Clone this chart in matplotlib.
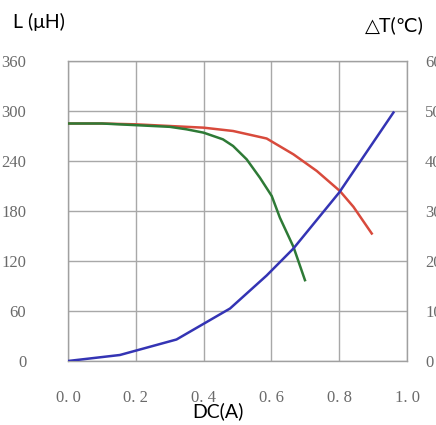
import matplotlib
matplotlib.use("Agg")
import matplotlib.pyplot as plt

# Data
red_x = [0.0, 0.10, 0.20, 0.30, 0.40, 0.487, 0.586, 0.665, 0.734, 0.802, 0.842, 0.896]
red_y = [285, 285, 284, 282, 280, 276, 267, 248, 228, 204, 185, 153]

green_x = [0.0, 0.10, 0.20, 0.30, 0.35, 0.40, 0.457, 0.487, 0.527, 0.566, 0.601, 0.625, 0.665, 0.699]
green_y = [285, 285, 283, 281, 278, 274, 266, 258, 242, 220, 198, 172, 137, 97]

blue_x = [0.0, 0.153, 0.32, 0.478, 0.586, 0.665, 0.80, 0.96]
blue_y = [0.0, 1.2, 4.3, 10.5, 17.1, 22.5, 33.7, 49.7]

x_ticks = [0.0, 0.2, 0.4, 0.6, 0.8, 1.0]
x_tick_labels = ["0. 0", "0. 2", "0. 4", "0. 6", "0. 8", "1. 0"]
yl_ticks = [0, 60, 120, 180, 240, 300, 360]
yr_ticks = [0, 10, 20, 30, 40, 50, 60]

fig = plt.figure(figsize=(4.36, 4.25), dpi=100)
ax = fig.add_axes([68/436, 64/425, 339/436, 300/425])
ax.set_xlim(0, 1.0)
ax.set_ylim(0, 360)
ax.set_xticks(x_ticks)
ax.set_xticklabels(x_tick_labels)
ax.set_yticks(yl_ticks)
ax.grid(True, color="#a8a8a8", linewidth=1.0)
ax.set_axisbelow(True)
for s in ax.spines.values():
    s.set_color("#a0a0a0")
    s.set_linewidth(1.0)

ax.tick_params(axis="both", length=0, labelcolor="#6a6a6a")
ax.tick_params(axis="x", pad=21)
ax.tick_params(axis="y", pad=30)
for lab in ax.get_xticklabels() + ax.get_yticklabels():
    lab.set_fontfamily("Liberation Serif")
    lab.set_fontsize(12)

ax.plot(red_x, red_y, color="#d84a3c", linewidth=1.8, zorder=3)
ax.plot(green_x, green_y, color="#2e7a36", linewidth=1.8, zorder=4)

ax2 = ax.twinx()
ax2.set_ylim(0, 60)
ax2.set_yticks(yr_ticks)
ax2.tick_params(axis="y", length=0, pad=13, labelcolor="#6a6a6a")
for lab in ax2.get_yticklabels():
    lab.set_fontfamily("Liberation Serif")
    lab.set_fontsize(12)
for s in ax2.spines.values():
    s.set_visible(False)
ax2.plot(blue_x, blue_y, color="#3434b4", linewidth=1.8, zorder=5)

title_fam = ["Lato", "DejaVu Sans"]
fig.text(13/436, 1 - 22/425, "L (μH)", family=title_fam, fontsize=14,
         ha="left", va="center", color="black")
fig.text(394/436, 1 - 25/425, "△T(℃)", family=title_fam, fontsize=14,
         ha="center", va="center", color="black")
fig.text(218/436, 1 - 411/425, "DC(A)", family=title_fam, fontsize=14,
         ha="center", va="center", color="black")

fig.savefig("out.png", dpi=100)
